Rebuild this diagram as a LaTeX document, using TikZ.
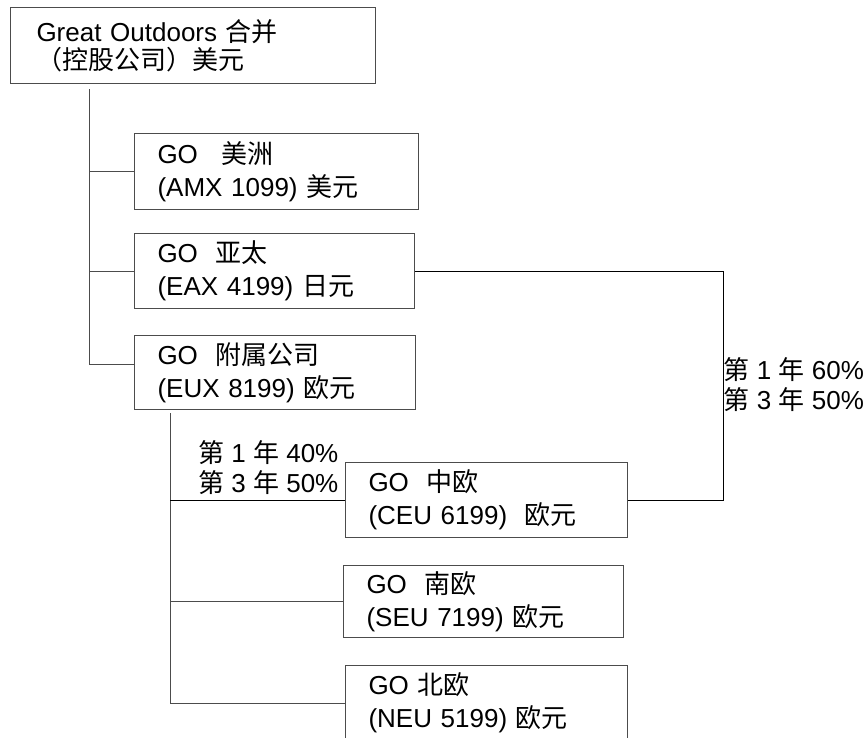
\documentclass[tikz,border=0pt]{standalone}
\usepackage{fontspec}
\setmainfont{Liberation Sans}
\newfontfamily\cjk{Noto Sans CJK SC}
\newcommand{\zh}[1]{{\cjk #1}}
\begin{document}
\begin{tikzpicture}[x=1pt,y=-1pt,
  entity/.style={draw=black!70, line width=1pt, anchor=north west, align=left,
    inner xsep=23pt, inner ysep=0pt, text width=#1, minimum height=75pt,
    font=\fontsize{26}{33}\selectfont},
  link/.style={draw=black!70, line width=1pt},
  share/.style={anchor=west, align=left, inner sep=0pt, font=\fontsize{26}{30}\selectfont}]
\useasboundingbox (0,0) rectangle (866,737);

\node[entity=313pt, inner xsep=26pt, minimum height=76pt, font=\fontsize{26}{28}\selectfont] (go) at (10,7) {Great Outdoors \zh{合并}\\\zh{（控股公司）美元}};
\node[entity=238pt, minimum height=76pt] (amx) at (134,133) {GO\hspace{0.9em}\zh{美洲}\\(AMX 1099) \zh{美元}};
\node[entity=234pt] (eax) at (134,233) {GO\ \ \zh{亚太}\\(EAX 4199) \zh{日元}};
\node[entity=235pt, minimum height=74pt] (eux) at (134,335) {GO\ \ \zh{附属公司}\\(EUX 8199) \zh{欧元}};
\node[entity=236pt] (ceu) at (345,462) {GO\ \ \zh{中欧}\\(CEU 6199)\ \ \zh{欧元}};
\node[entity=234pt, minimum height=72pt] (seu) at (343,565) {GO\ \ \zh{南欧}\\(SEU 7199) \zh{欧元}};
\node[entity=236pt] (neu) at (345,665) {GO \zh{北欧}\\(NEU 5199) \zh{欧元}};

\coordinate (trunk) at (89,89);
\coordinate (branch) at (170,413);
\coordinate (bend) at (723,0);

\draw[link] (trunk) |- ([yshift=8pt]eux.west);
\draw[link] (trunk |- amx.west) -- (amx.west);
\draw[link] (trunk |- eax.west) -- (eax.west);

\draw[link] (branch) |- (neu.west);
\draw[link, draw=black] (branch |- ceu.west) -- (ceu.west);
\draw[link] (branch |- seu.west) -- (seu.west);

\draw[link, draw=black] (eax.east) -- (eax.east -| bend) |- (ceu.east);

\node[share] (split1) at (198,468) {\zh{第} 1 \zh{年} 40\%\\\zh{第} 3 \zh{年} 50\%};
\node[share] (split2) at (723.5,385) {\zh{第} 1 \zh{年} 60\%\\\zh{第} 3 \zh{年} 50\%};
\end{tikzpicture}
\end{document}
